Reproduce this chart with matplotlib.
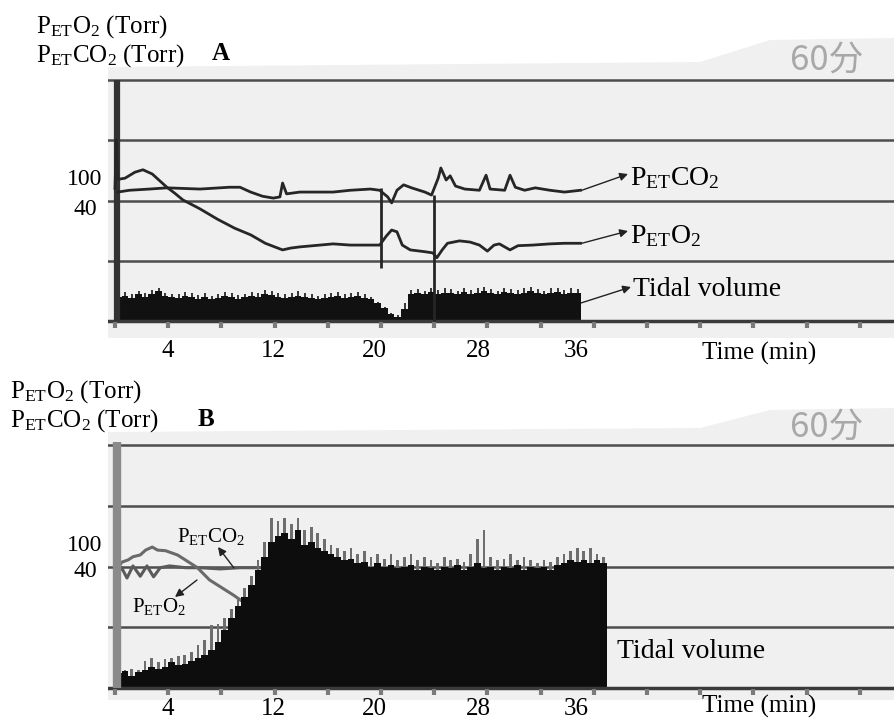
import matplotlib
matplotlib.use("Agg")
import matplotlib.pyplot as plt
from matplotlib.patches import Polygon

plt.rcParams['font.family'] = ['Liberation Serif', 'DejaVu Serif']
plt.rcParams['mathtext.fontset'] = 'custom'
plt.rcParams['mathtext.rm'] = 'Liberation Serif'
plt.rcParams['mathtext.it'] = 'Liberation Serif:italic'
plt.rcParams['mathtext.bf'] = 'Liberation Serif:bold'

# ---------------- data (time in min, signal in chart-grid units) ----------------
tick_labels = ["4", "12", "20", "28", "36"]
label_pos = [4.0, 11.9, 19.5, 27.3, 34.7]
tick_marks = [0, 4, 8, 12, 16, 20, 24, 28, 32, 36, 40, 44, 48, 52, 56]

# Panel A
a_co2_t = [0.2, 1.1, 2.6, 3.9, 6.4, 8.6, 9.4, 10.2, 11.1, 11.9, 12.4, 12.6, 12.9, 13.9, 16.4, 17.7,
           19.2, 19.9, 20.5, 20.8, 21.2, 21.7, 22.3, 23.3, 23.8, 24.3, 24.5, 24.9, 25.2, 25.6, 26.3,
           27.4, 27.9, 28.2, 29.3, 29.7, 30.1, 30.8, 31.6, 32.7, 33.8, 35.0]
a_co2_v = [2.14, 2.17, 2.19, 2.21, 2.19, 2.22, 2.22, 2.14, 2.07, 2.04, 2.06, 2.29, 2.11, 2.14, 2.14, 2.17,
           2.19, 2.17, 2.06, 1.96, 2.17, 2.26, 2.21, 2.14, 2.09, 2.37, 2.54, 2.34, 2.41, 2.24, 2.19,
           2.17, 2.42, 2.19, 2.17, 2.42, 2.22, 2.17, 2.21, 2.17, 2.14, 2.17]

a_o2_t = [0.0, 0.1, 0.2, 0.75, 1.5, 2.1, 2.8, 3.4, 3.9, 4.5, 5.1, 6.4, 7.7, 9.0, 10.2, 11.3, 12.6,
          13.2, 13.9, 15.4, 16.4, 17.7, 19.2, 19.9, 20.4, 20.8, 21.2, 21.6, 22.2, 23.3, 23.9, 24.2,
          24.6, 25.0, 25.9, 26.7, 27.4, 28.0, 28.5, 28.9, 29.7, 30.3, 31.4, 32.7, 33.8, 35.0]
a_o2_v = [2.2, 3.0, 2.35, 2.37, 2.47, 2.51, 2.44, 2.32, 2.22, 2.12, 2.01, 1.86, 1.69, 1.54, 1.43, 1.29, 1.18,
          1.21, 1.23, 1.26, 1.28, 1.26, 1.26, 1.26, 1.41, 1.51, 1.48, 1.26, 1.18, 1.15, 1.13, 1.05,
          1.18, 1.29, 1.33, 1.31, 1.26, 1.16, 1.26, 1.28, 1.18, 1.25, 1.26, 1.28, 1.29, 1.29]

a_events_t = [20.0, 24.0]
a_events_lo = [0.88, 0.0]
a_events_hi = [2.21, 2.09]

a_tv_t = [0, 0.5, 1, 1.5, 2, 2.5, 3, 3.5, 4, 4.5, 5, 5.5, 6, 6.5, 7, 7.5, 8, 8.5, 9, 9.5,
          10, 10.5, 11, 11.5, 12, 12.5, 13, 13.5, 14, 14.5, 15, 15.5, 16, 16.5, 17, 17.5, 18, 18.5, 19, 19.5,
          20, 20.5, 21, 21.5, 22, 22.5, 23, 23.5, 24, 24.5, 25, 25.5, 26, 26.5, 27, 27.5, 28, 28.5,
          29, 29.5, 30, 30.5, 31, 31.5, 32, 32.5, 33, 33.5, 34, 34.5]
a_tv_v = [0.40, 0.42, 0.38, 0.44, 0.40, 0.45, 0.50, 0.42, 0.40, 0.38, 0.42, 0.40, 0.37, 0.40, 0.36, 0.38, 0.42, 0.40, 0.37, 0.40,
          0.42, 0.40, 0.45, 0.43, 0.40, 0.38, 0.40, 0.42, 0.40, 0.38, 0.36, 0.38, 0.40, 0.42, 0.38, 0.40, 0.42, 0.38, 0.36, 0.30,
          0.22, 0.12, 0.06, 0.20, 0.45, 0.46, 0.44, 0.48, 0.45, 0.47, 0.46, 0.44, 0.48, 0.45, 0.47, 0.50, 0.46, 0.44,
          0.48, 0.46, 0.45, 0.47, 0.49, 0.46, 0.44, 0.47, 0.48, 0.45, 0.47, 0.46]
a_tv_spk = [0.45, 0.48, 0.44, 0.50, 0.46, 0.52, 0.55, 0.47, 0.45, 0.44, 0.48, 0.46, 0.43, 0.47, 0.42, 0.45, 0.48, 0.46, 0.43, 0.45,
            0.48, 0.46, 0.52, 0.49, 0.46, 0.44, 0.46, 0.49, 0.46, 0.44, 0.42, 0.44, 0.46, 0.48, 0.44, 0.46, 0.48, 0.44, 0.40, 0.32,
            0.24, 0.14, 0.10, 0.30, 0.52, 0.53, 0.50, 0.55, 0.52, 0.54, 0.53, 0.50, 0.55, 0.52, 0.54, 0.57, 0.53, 0.50,
            0.55, 0.53, 0.52, 0.54, 0.56, 0.53, 0.50, 0.54, 0.55, 0.52, 0.54, 0.53]

# Panel B
b_co2_t = [0.15, 0.5, 0.9, 1.35, 1.9, 2.4, 2.9, 3.4, 4.1, 5.3, 6.4, 7.9, 9.4, 10.9]
b_co2_v = [1.86, 1.98, 1.81, 2.01, 1.84, 2.01, 1.83, 1.98, 2.01, 1.98, 1.98, 1.96, 1.98, 1.98]

b_o2_t = [0.15, 0.5, 1.0, 1.35, 1.9, 2.3, 2.8, 3.2, 3.8, 4.7, 6.2, 7.1, 8.9, 10.2]
b_o2_v = [1.94, 2.07, 2.11, 2.16, 2.19, 2.27, 2.32, 2.27, 2.26, 2.19, 1.98, 1.78, 1.53, 1.33]

b_tv_t = [0, 0.5, 1, 1.5, 2, 2.5, 3, 3.5, 4, 4.5, 5, 5.5, 6, 6.5, 7, 7.5, 8, 8.5, 9, 9.5,
          10, 10.5, 11, 11.5, 12, 12.5, 13, 13.5, 14, 14.5, 15, 15.5, 16, 16.5, 17, 17.5, 18, 18.5, 19, 19.5,
          20, 20.5, 21, 21.5, 22, 22.5, 23, 23.5, 24, 24.5, 25, 25.5, 26, 26.5, 27, 27.5, 28, 28.5,
          29, 29.5, 30, 30.5, 31, 31.5, 32, 32.5, 33, 33.5, 34, 34.5, 35, 35.5, 36, 36.5]
b_tv_body = [0.25, 0.28, 0.20, 0.26, 0.30, 0.35, 0.32, 0.34, 0.42, 0.38, 0.40, 0.45, 0.50, 0.55, 0.62, 0.75, 0.95, 1.15, 1.35, 1.50,
             1.70, 1.95, 2.15, 2.40, 2.50, 2.55, 2.45, 2.60, 2.35, 2.40, 2.30, 2.25, 2.20, 2.15, 2.10, 2.12, 2.05, 2.08, 2.00, 2.05,
             2.00, 2.02, 1.98, 2.00, 2.02, 1.95, 2.00, 1.98, 1.95, 2.00, 1.98, 2.02, 1.95, 2.00, 2.05, 1.98, 2.00, 1.95,
             2.00, 1.98, 2.02, 1.95, 2.00, 1.98, 2.00, 1.95, 2.02, 2.05, 2.10, 2.08, 2.10, 2.05, 2.10, 2.05]
b_tv_peak = [0.35, 0.30, 0.32, 0.30, 0.45, 0.50, 0.42, 0.48, 0.50, 0.52, 0.55, 0.60, 0.70, 0.79, 1.04, 1.05, 1.15, 1.30, 1.50, 1.65,
             1.85, 2.10, 2.40, 2.80, 2.75, 2.80, 2.70, 2.80, 2.60, 2.65, 2.55, 2.45, 2.35, 2.30, 2.25, 2.30, 2.20, 2.25, 2.15, 2.20,
             2.12, 2.20, 2.10, 2.15, 2.20, 2.10, 2.15, 2.10, 2.05, 2.15, 2.10, 2.12, 2.08, 2.20, 2.45, 2.60, 2.15, 2.10,
             2.12, 2.20, 2.10, 2.15, 2.10, 2.05, 2.10, 2.08, 2.15, 2.20, 2.25, 2.30, 2.25, 2.30, 2.20, 2.15]

# ---------------- layout helpers ----------------
W, H = 894, 721
fig = plt.figure(figsize=(W / 100, H / 100), dpi=100)
fig.patch.set_facecolor('white')

def fx(x):
    return x / W

def fy(y):
    return 1 - y / H

PX_PER_MIN = 13.3
X0 = 115.0

def make_axes(top_px, bot_px, zero_px, unit_px):
    ax = fig.add_axes([fx(108), fy(bot_px), fx(W) - fx(108), fy(top_px) - fy(bot_px)])
    ax.set_xlim((108 - X0) / PX_PER_MIN, (W - X0) / PX_PER_MIN)
    ax.set_ylim((zero_px - bot_px) / unit_px, (zero_px - top_px) / unit_px)
    ax.set_facecolor('none')
    ax.set_zorder(2)
    for s in ax.spines.values():
        s.set_visible(False)
    ax.set_xticks([])
    ax.set_yticks([])
    return ax

# scanned-paper background
for pts in ([(108, 67), (700, 62), (770, 40), (W, 38), (W, 338), (108, 338)],
            [(108, 432), (700, 428), (770, 410), (W, 408), (W, 700), (108, 700)]):
    fig.patches.append(Polygon([(fx(x), fy(y)) for x, y in pts], closed=True,
                               transform=fig.transFigure, facecolor='#f0f0f0',
                               edgecolor='none', zorder=-5))

axA = make_axes(66, 338, 321, 60.25)
axB = make_axes(432, 700, 688, 60.75)

trace_c = '#262626'
grid_c = '#4d4d4d'

for ax in (axA, axB):
    for lvl in (1, 2, 3, 4):
        ax.axhline(lvl, color=grid_c, lw=1.8, zorder=1)
    ax.axhline(0, color='#3a3a3a', lw=2.5, zorder=4)
    ax.vlines(tick_marks, -0.12, -0.02, color='#7a7a7a', lw=3, zorder=4)

# Panel A
axA.vlines(0.15, 0, 4, color='#333333', lw=4.5, zorder=5)
axA.bar([t + 0.2 for t in a_tv_t], a_tv_spk, width=0.15, align='edge', color='#3a3a3a',
        edgecolor='none', zorder=3)
axA.bar(a_tv_t, a_tv_v, width=0.5, align='edge', color='#111111', edgecolor='none', zorder=3)
axA.plot(a_co2_t, a_co2_v, color=trace_c, lw=2.0, zorder=6)
axA.plot(a_o2_t, a_o2_v, color=trace_c, lw=2.0, zorder=6)
axA.vlines(a_events_t, a_events_lo, a_events_hi, color=trace_c, lw=2.0, zorder=6)

# Panel B
axB.vlines(0.15, 0, 4.05, color='#8a8a8a', lw=6, zorder=5)
axB.plot(b_co2_t, b_co2_v, color='#5a5a5a', lw=2.2, zorder=2)
axB.plot(b_o2_t, b_o2_v, color='#6a6a6a', lw=2.2, zorder=2)
axB.bar([t + 0.15 for t in b_tv_t], b_tv_peak, width=0.2, align='edge', color='#6e6e6e',
        edgecolor='none', zorder=3)
axB.bar(b_tv_t, b_tv_body, width=0.5, align='edge', color='#0d0d0d', edgecolor='none', zorder=3)

# tick labels and axis titles
for ax, base_y, time_y in ((axA, 357, 360), (axB, 715, 713)):
    for lab, pos in zip(tick_labels, label_pos):
        fig.text(fx(X0 + pos * PX_PER_MIN), fy(base_y), lab, ha='center', va='baseline', fontsize=18)
    fig.text(fx(702), fy(time_y), "Time (min)", ha='left', va='baseline', fontsize=18)

# y-axis headers
fig.text(fx(36), fy(33), r'$\mathrm{P_{ET}O_2}$ (Torr)', fontsize=18, va='baseline')
fig.text(fx(36), fy(62), r'$\mathrm{P_{ET}CO_2}$ (Torr)', fontsize=18, va='baseline')
fig.text(fx(212), fy(60), 'A', fontsize=18, fontweight='bold', va='baseline')
fig.text(fx(10), fy(398), r'$\mathrm{P_{ET}O_2}$ (Torr)', fontsize=18, va='baseline')
fig.text(fx(10), fy(427), r'$\mathrm{P_{ET}CO_2}$ (Torr)', fontsize=18, va='baseline')
fig.text(fx(198), fy(426), 'B', fontsize=18, fontweight='bold', va='baseline')

# scale values
fig.text(fx(102), fy(185), '100', fontsize=17, ha='right', va='baseline')
fig.text(fx(97), fy(215), '40', fontsize=17, ha='right', va='baseline')
fig.text(fx(102), fy(551), '100', fontsize=17, ha='right', va='baseline')
fig.text(fx(97), fy(577), '40', fontsize=17, ha='right', va='baseline')

# recorder marks
for yy in (60, 427):
    fig.text(fx(790), fy(yy), '60分', fontsize=25, color='#a8a8a8', va='center', ha='left',
             family=['Noto Sans CJK SC', 'DejaVu Sans'])

# annotations panel A
arrow = dict(arrowstyle='-|>', color='#222222', lw=1.0, mutation_scale=12, shrinkA=0, shrinkB=0)
fig.text(fx(630), fy(185), r'$\mathrm{P_{ET}CO_2}$', fontsize=20, va='baseline')
fig.text(fx(630), fy(243), r'$\mathrm{P_{ET}O_2}$', fontsize=20, va='baseline')
fig.text(fx(633), fy(296), 'Tidal volume', fontsize=20, va='baseline')
axA.annotate('', xy=(fx(628), fy(174)), xycoords='figure fraction',
             xytext=(a_co2_t[-1] + 0.1, a_co2_v[-1]), textcoords='data', arrowprops=arrow)
axA.annotate('', xy=(fx(628), fy(231)), xycoords='figure fraction',
             xytext=(a_o2_t[-1] + 0.1, a_o2_v[-1]), textcoords='data', arrowprops=arrow)
axA.annotate('', xy=(fx(631), fy(287)), xycoords='figure fraction',
             xytext=(a_tv_t[-1] + 0.55, 0.30), textcoords='data', arrowprops=arrow)

# annotations panel B
fig.text(fx(177), fy(542), r'$\mathrm{P_{ET}CO_2}$', fontsize=15, va='baseline')
fig.text(fx(132), fy(612), r'$\mathrm{P_{ET}O_2}$', fontsize=15, va='baseline')
fig.text(fx(617), fy(658), 'Tidal volume', fontsize=20, va='baseline')
axB.annotate('', xy=(fx(218), fy(547)), xycoords='figure fraction',
             xytext=(fx(234), fy(568)), textcoords='figure fraction', arrowprops=arrow)
axB.annotate('', xy=(fx(175), fy(597)), xycoords='figure fraction',
             xytext=(fx(197), fy(580)), textcoords='figure fraction', arrowprops=arrow)

fig.savefig('out.png', dpi=100)
